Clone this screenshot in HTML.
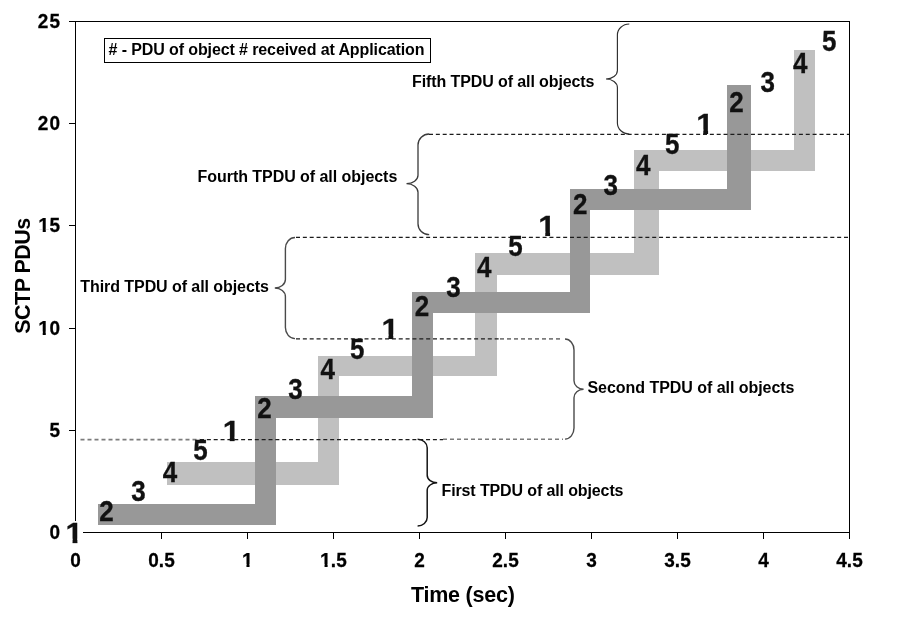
<!DOCTYPE html>
<html><head><meta charset="utf-8"><title>SCTP PDUs chart</title>
<style>html,body{margin:0;padding:0;background:#fff}svg{display:block}</style></head>
<body>
<svg width="911" height="623" viewBox="0 0 911 623" font-family="'Liberation Sans', sans-serif" font-weight="bold" fill="#000">
<rect width="911" height="623" fill="#fff"/>
<defs><clipPath id="one" clipPathUnits="userSpaceOnUse"><rect x="-30" y="-82" width="60" height="67"/><rect x="-5.2" y="-15.5" width="15.4" height="17"/></clipPath></defs>
<g shape-rendering="crispEdges">
<rect x="167" y="462" width="172" height="23" fill="#c0c0c0"/>
<rect x="318" y="356" width="21" height="129" fill="#c0c0c0"/>
<rect x="318" y="356" width="179" height="20" fill="#c0c0c0"/>
<rect x="475" y="253" width="22" height="123" fill="#c0c0c0"/>
<rect x="475" y="253" width="184" height="22" fill="#c0c0c0"/>
<rect x="634" y="150" width="25" height="125" fill="#c0c0c0"/>
<rect x="634" y="150" width="181" height="21" fill="#c0c0c0"/>
<rect x="794" y="50" width="21" height="121" fill="#c0c0c0"/>
<rect x="98" y="504" width="178" height="21" fill="#989898"/>
<rect x="255" y="396" width="21" height="129" fill="#989898"/>
<rect x="255" y="396" width="178" height="22" fill="#989898"/>
<rect x="412" y="292" width="21" height="126" fill="#989898"/>
<rect x="412" y="292" width="178" height="21" fill="#989898"/>
<rect x="570" y="189" width="20" height="124" fill="#989898"/>
<rect x="570" y="189" width="181" height="21" fill="#989898"/>
<rect x="727" y="85" width="24" height="125" fill="#989898"/>
</g>
<g stroke="#000" stroke-width="1" fill="none" shape-rendering="crispEdges">
<rect x="75.5" y="21.5" width="774.0" height="511.0"/>
<line x1="75.5" y1="532" x2="75.5" y2="539"/>
<line x1="161.5" y1="532" x2="161.5" y2="539"/>
<line x1="247.5" y1="532" x2="247.5" y2="539"/>
<line x1="333.5" y1="532" x2="333.5" y2="539"/>
<line x1="419.5" y1="532" x2="419.5" y2="539"/>
<line x1="505.5" y1="532" x2="505.5" y2="539"/>
<line x1="591.5" y1="532" x2="591.5" y2="539"/>
<line x1="677.5" y1="532" x2="677.5" y2="539"/>
<line x1="763.5" y1="532" x2="763.5" y2="539"/>
<line x1="849.5" y1="532" x2="849.5" y2="539"/>
<line x1="69" y1="532.5" x2="75" y2="532.5"/>
<line x1="69" y1="430.5" x2="75" y2="430.5"/>
<line x1="69" y1="328.5" x2="75" y2="328.5"/>
<line x1="69" y1="225.5" x2="75" y2="225.5"/>
<line x1="69" y1="123.5" x2="75" y2="123.5"/>
<line x1="69" y1="21.5" x2="75" y2="21.5"/>
</g>
<g stroke="#7c7c7c" stroke-width="1.6" stroke-dasharray="4 3" fill="none">
<line x1="80.5" y1="439.6" x2="200" y2="439.6"/>
<line x1="443" y1="439.3" x2="563" y2="439.3"/>
<line x1="500" y1="338.9" x2="561" y2="338.9"/>
</g>
<g stroke="#1c1c1c" stroke-width="1.2" stroke-dasharray="4 2.85" fill="none">
<line x1="200" y1="439.6" x2="443" y2="439.6"/>
<line x1="296" y1="338.9" x2="500" y2="338.9"/>
<line x1="296" y1="237.4" x2="849" y2="237.4"/>
<line x1="429" y1="134.3" x2="849" y2="134.3"/>
</g>
<g stroke="#242424" stroke-width="1.4" fill="none">
<path d="M629.3,24 A11.899999999999977,11.0 0 0 0 617.4,35.0 L617.4,70.5 A11.399999999999977,8.5 0 0 1 606,79 A11.399999999999977,8.5 0 0 1 617.4,87.5 L617.4,123.0 A11.899999999999977,11.0 0 0 0 629.3,134" stroke="#2e2e2e" stroke-width="1.15"/>
<path d="M429.2,134 A11.199999999999989,11.0 0 0 0 418,145.0 L418,175.2 A11.5,8.5 0 0 1 406.5,183.7 A11.5,8.5 0 0 1 418,192.2 L418,223.7 A11.199999999999989,11.0 0 0 0 429.2,234.7" stroke="#3a3a3a" stroke-width="1.3"/>
<path d="M295,237.5 A9.600000000000023,11.0 0 0 0 285.4,248.5 L285.4,279.5 A10.599999999999966,8.5 0 0 1 274.8,288 A10.599999999999966,8.5 0 0 1 285.4,296.5 L285.4,327.6 A9.600000000000023,11.0 0 0 0 295,338.6" stroke="#4a4a4a" stroke-width="1.4"/>
<path d="M565,339 A9,11.0 0 0 1 574,350.0 L574,380.7 A9.600000000000023,8.5 0 0 0 583.6,389.2 A9.600000000000023,8.5 0 0 0 574,397.7 L574,428.1 A9,11.0 0 0 1 565,439.1" stroke="#4a4a4a" stroke-width="1.4"/>
<path d="M417.6,439.3 A9.599999999999966,8.5 0 0 1 427.2,447.8 L427.2,475.3 A10.0,7.5 0 0 0 437.2,482.8 A10.0,7.5 0 0 0 427.2,490.3 L427.2,517.5 A9.599999999999966,8.5 0 0 1 417.6,526" stroke="#141414" stroke-width="1.5"/>
</g>
<rect x="104.5" y="38.5" width="326" height="24" fill="#fff" stroke="#000" stroke-width="1" shape-rendering="crispEdges"/>
<text x="108.5" y="54.5" font-size="16" textLength="316" lengthAdjust="spacing"># - PDU of object # received at Application</text>
<text x="412" y="86.5" font-size="16" textLength="182.5" lengthAdjust="spacing">Fifth TPDU of all objects</text>
<text x="197.5" y="181.5" font-size="16" textLength="199.8" lengthAdjust="spacing">Fourth TPDU of all objects</text>
<text x="80.3" y="291.5" font-size="16" textLength="188.6" lengthAdjust="spacing">Third TPDU of all objects</text>
<text x="587.5" y="392.5" font-size="16" textLength="207" lengthAdjust="spacing">Second TPDU of all objects</text>
<text x="441.5" y="496" font-size="16" textLength="182" lengthAdjust="spacing">First TPDU of all objects</text>
<g stroke="#000" stroke-width="0.25">
<text transform="translate(75.5,567) scale(1,1.06)" font-size="19" text-anchor="middle">0</text>
<text transform="translate(161.5,567) scale(1,1.06)" font-size="19" text-anchor="middle">0.5</text>
<g transform="translate(247.5,567) scale(0.1995,0.2014)" clip-path="url(#one)"><text font-size="100" text-anchor="middle" stroke-width="1.2">1</text></g>
<g transform="translate(325.58,567) scale(0.1995,0.2014)" clip-path="url(#one)"><text font-size="100" text-anchor="middle" stroke-width="1.2">1</text></g>
<text transform="translate(330.87,567) scale(1,1.06)" font-size="19">.5</text>
<text transform="translate(419.5,567) scale(1,1.06)" font-size="19" text-anchor="middle">2</text>
<text transform="translate(505.5,567) scale(1,1.06)" font-size="19" text-anchor="middle">2.5</text>
<text transform="translate(591.5,567) scale(1,1.06)" font-size="19" text-anchor="middle">3</text>
<text transform="translate(677.5,567) scale(1,1.06)" font-size="19" text-anchor="middle">3.5</text>
<text transform="translate(763.5,567) scale(1,1.06)" font-size="19" text-anchor="middle">4</text>
<text transform="translate(849.5,567) scale(1,1.06)" font-size="19" text-anchor="middle">4.5</text>
<text transform="translate(60,539.0) scale(1,1.06)" font-size="19" text-anchor="end">0</text>
<text transform="translate(60,436.8) scale(1,1.06)" font-size="19" text-anchor="end">5</text>
<g transform="translate(43.75,334.6) scale(0.1995,0.2014)" clip-path="url(#one)"><text font-size="100" text-anchor="middle" stroke-width="1.2">1</text></g>
<text transform="translate(60,334.6) scale(1,1.06)" font-size="19" text-anchor="end">0</text>
<g transform="translate(43.75,232.4) scale(0.1995,0.2014)" clip-path="url(#one)"><text font-size="100" text-anchor="middle" stroke-width="1.2">1</text></g>
<text transform="translate(60,232.4) scale(1,1.06)" font-size="19" text-anchor="end">5</text>
<text transform="translate(48.23,130.2) scale(1,1.06)" font-size="19" text-anchor="end">2</text>
<text transform="translate(60,130.2) scale(1,1.06)" font-size="19" text-anchor="end">0</text>
<text transform="translate(48.23,28.0) scale(1,1.06)" font-size="19" text-anchor="end">2</text>
<text transform="translate(60,28.0) scale(1,1.06)" font-size="19" text-anchor="end">5</text>
</g>
<text x="411" y="601.5" font-size="21.5" textLength="103.8" lengthAdjust="spacing">Time (sec)</text>
<text transform="translate(30,333.7) rotate(-90)" font-size="21.5" textLength="116" lengthAdjust="spacing">SCTP PDUs</text>
<rect x="66" y="521" width="17" height="23" fill="#fff"/>
<g font-size="26" text-anchor="middle" fill="#111" stroke="#111" stroke-width="0.3">
<g transform="translate(74.2,543.2) scale(0.3120,0.2886)" clip-path="url(#one)"><text font-size="100" text-anchor="middle" fill="#111" stroke-width="1.0">1</text></g>
<text transform="translate(106.6,521.0) scale(1,1.11)">2</text>
<text transform="translate(138.4,500.5) scale(1,1.11)">3</text>
<text transform="translate(170.1,482.1) scale(1,1.11)">4</text>
<text transform="translate(200.5,459.6) scale(1,1.11)">5</text>
<g transform="translate(231.4,441.2) scale(0.3120,0.2886)" clip-path="url(#one)"><text font-size="100" text-anchor="middle" fill="#111" stroke-width="1.0">1</text></g>
<text transform="translate(264.6,418.2) scale(1,1.11)">2</text>
<text transform="translate(295.4,399.3) scale(1,1.11)">3</text>
<text transform="translate(327.8,378.9) scale(1,1.11)">4</text>
<text transform="translate(357.3,358.8) scale(1,1.11)">5</text>
<g transform="translate(390.09999999999997,338.8) scale(0.3120,0.2886)" clip-path="url(#one)"><text font-size="100" text-anchor="middle" fill="#111" stroke-width="1.0">1</text></g>
<text transform="translate(422,315.6) scale(1,1.11)">2</text>
<text transform="translate(453.5,297.1) scale(1,1.11)">3</text>
<text transform="translate(484.3,277.0) scale(1,1.11)">4</text>
<text transform="translate(515.5,256.2) scale(1,1.11)">5</text>
<g transform="translate(546.9,235.8) scale(0.3120,0.2886)" clip-path="url(#one)"><text font-size="100" text-anchor="middle" fill="#111" stroke-width="1.0">1</text></g>
<text transform="translate(580.2,214.1) scale(1,1.11)">2</text>
<text transform="translate(610.8,194.9) scale(1,1.11)">3</text>
<text transform="translate(643.3,174.5) scale(1,1.11)">4</text>
<text transform="translate(672.3,154.0) scale(1,1.11)">5</text>
<g transform="translate(704.9,133.6) scale(0.3120,0.2886)" clip-path="url(#one)"><text font-size="100" text-anchor="middle" fill="#111" stroke-width="1.0">1</text></g>
<text transform="translate(736.6,111.7) scale(1,1.11)">2</text>
<text transform="translate(767.7,91.6) scale(1,1.11)">3</text>
<text transform="translate(800.2,73.1) scale(1,1.11)">4</text>
<text transform="translate(829.3000000000001,50.8) scale(1,1.11)">5</text>
</g>
</svg>
</body></html>
